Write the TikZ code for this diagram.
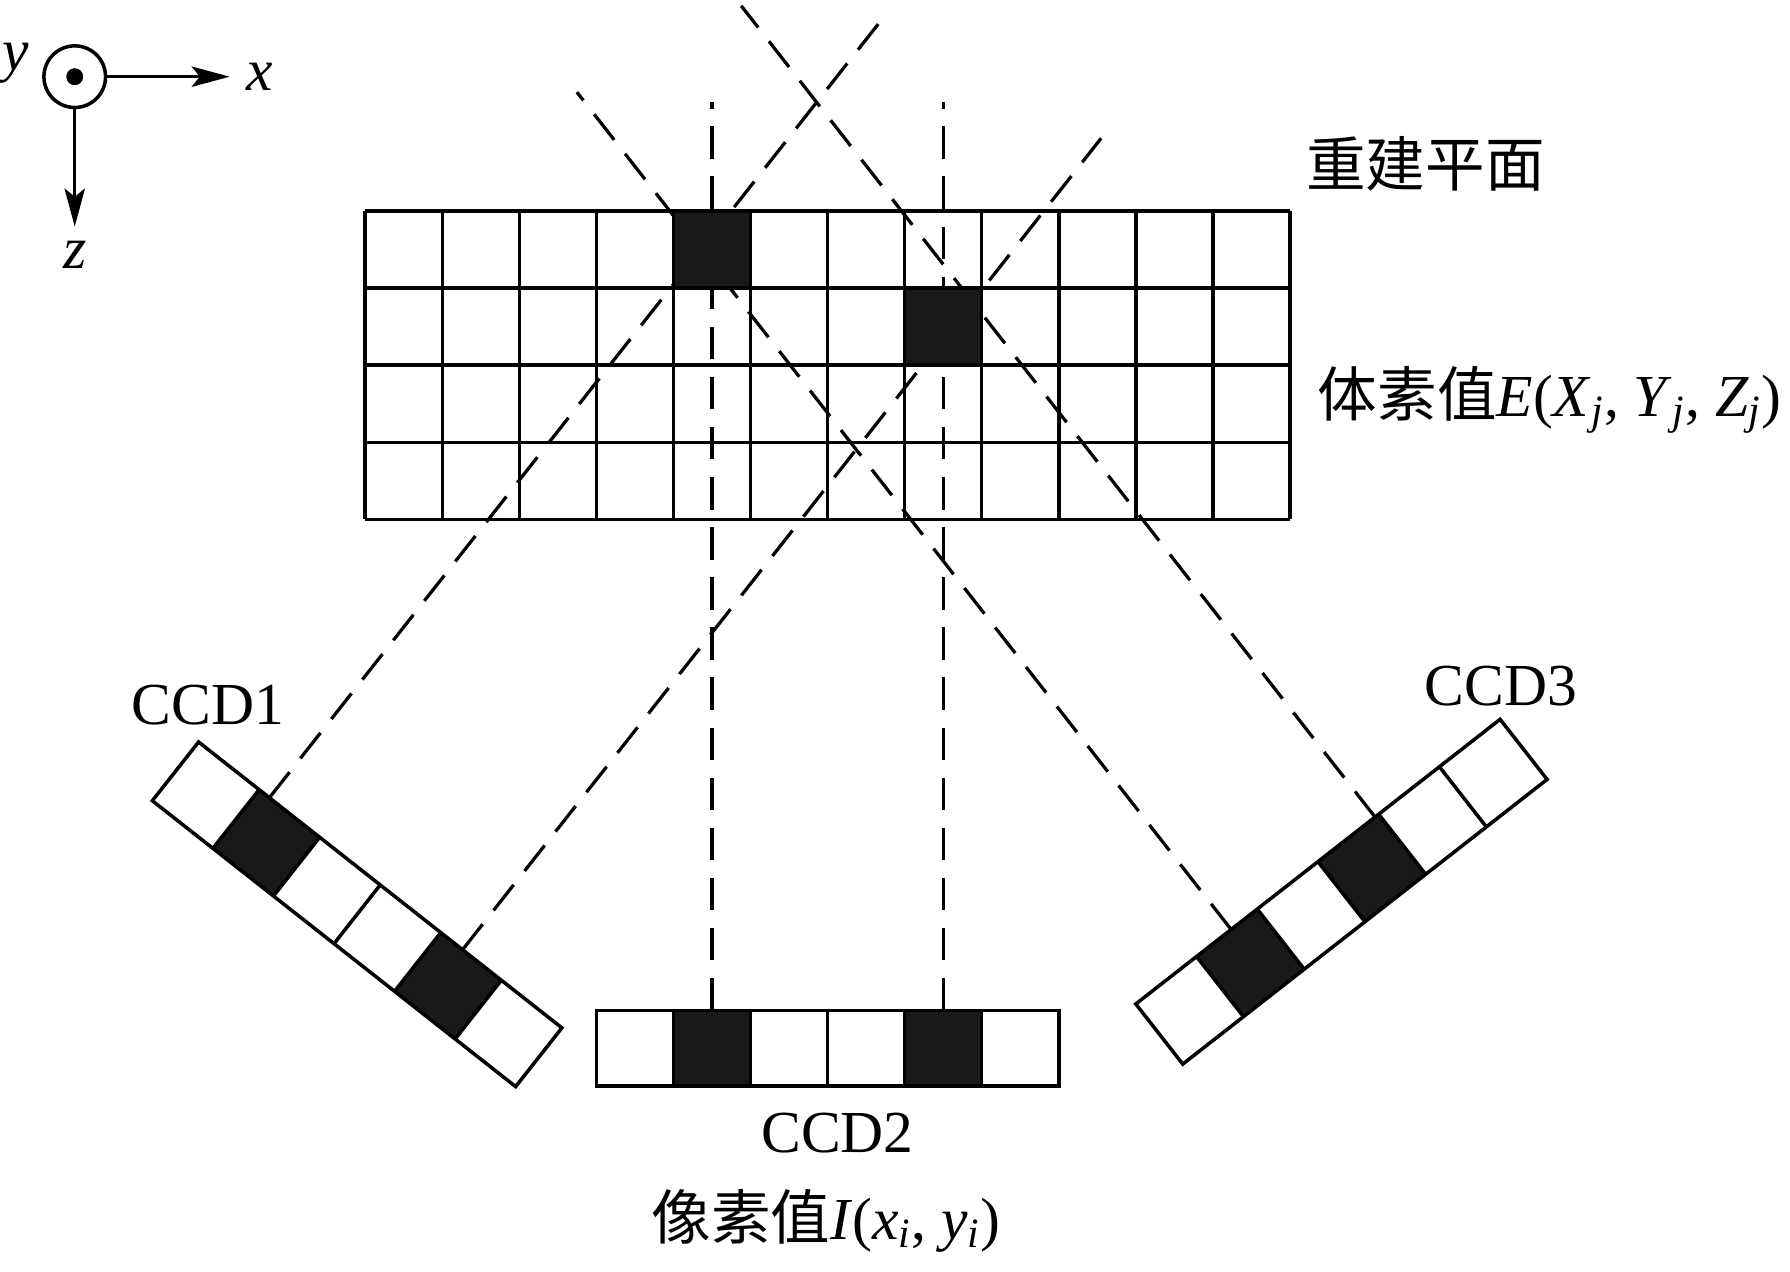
\documentclass[tikz,border=0pt]{standalone}
\usepackage{fontspec}
\setmainfont{Liberation Serif}
\newfontfamily\cjk{Noto Sans CJK SC}
\usepackage{tikz}
\usetikzlibrary{positioning,arrows.meta}
\newcommand{\xiabiao}[2]{\textit{#1}\textsubscript{\textit{#2}}}

\begin{document}
\begin{tikzpicture}[line width=1.3pt,
		touying/.style={line width=1.2pt, dash pattern=on 12pt off 6.5pt},
		heige/.style={fill=black!90},
		jiantou/.style={-{Stealth[length=14pt,width=7.5pt,inset=3pt]}},
		biaozhu/.style={font=\fontsize{22}{26}\selectfont, inner sep=0pt}]
		\useasboundingbox (-4.74,2.74) rectangle (18.49,-13.76);
		
		% 坐标系
		\node[circle, draw, minimum size=0.8cm, inner sep=0pt] (yuan) at (-3.77,1.745) {};
		\fill (yuan.center) circle (0.11);
		\coordinate (xjian) at (-1.76,1.745);
		\coordinate (zjian) at (-3.77,-0.2);
		\draw[jiantou] (yuan.east) -- (xjian);
		\draw[jiantou] (yuan.south) -- (zjian);
		\node[biaozhu] (xlab) at (-1.37,1.745) {\textit{x}};
		\node[biaozhu] (ylab) at (-4.53,1.92) {\textit{y}};
		\node[biaozhu] (zlab) at (-3.77,-0.57) {\textit{z}};
		
		% CCD2（水平）
		\begin{scope}[shift={(3,-10.375)}]
			\coordinate (c2a) at (1.5,0);
			\coordinate (c2b) at (4.5,0);
		\end{scope}
		\coordinate (t2a) at (4.5,1.42);
		\coordinate (t2b) at (7.5,1.42);
		
		% CCD1（左侧倾斜）
		\begin{scope}[shift={(-2.163,-6.889)}, rotate=-38.2]
			\coordinate (c1a) at (1.17,0);
			\coordinate (c1b) at (4.36,0);
			\coordinate (t1a) at (1.17,12.98);
			\coordinate (t1b) at (4.36,13.40);
		\end{scope}
		
		% CCD3（右侧倾斜）
		\begin{scope}[shift={(10.0,-10.289)}, rotate=38]
			\coordinate (c3a) at (1.57,0);
			\coordinate (c3b) at (3.94,0);
			\coordinate (t3a) at (1.57,13.79);
			\coordinate (t3b) at (3.94,13.36);
		\end{scope}
		
		% 投影线
		\draw[touying] (c2a) -- (t2a);
		\draw[touying] (c2b) -- (t2b);
		\draw[touying] (c1a) -- (t1a);
		\draw[touying] (c1b) -- (t1b);
		\draw[touying] (c3a) -- (t3a);
		\draw[touying] (c3b) -- (t3b);
		
		% 重建平面（4行12列）
		\fill[heige] (4,0) rectangle (5,-1); % 体素1
		\fill[heige] (7,-1) rectangle (8,-2); % 体素2
		\draw (0,0) grid (12,-4);
		
		% 三个CCD的像元
		\begin{scope}[shift={(3,-10.375)}]
			\fill[heige] (1,0) rectangle (2,-0.98);
			\fill[heige] (4,0) rectangle (5,-0.98);
			\draw (0,0) rectangle (6,-0.98);
			\foreach \i in {1,...,5} \draw (\i,0) -- (\i,-0.98);
		\end{scope}
		\begin{scope}[shift={(-2.163,-6.889)}, rotate=-38.2]
			\fill[heige] (1,0) rectangle (2,-0.97);
			\fill[heige] (4,0) rectangle (5,-0.97);
			\draw (0,0) rectangle (6,-0.97);
			\foreach \i in {1,...,5} \draw (\i,0) -- (\i,-0.97);
		\end{scope}
		\begin{scope}[shift={(10.0,-10.289)}, rotate=38]
			\fill[heige] (1,0) rectangle (2,-0.99);
			\fill[heige] (3,0) rectangle (4,-0.99);
			\draw (0,0) rectangle (6,-0.99);
			\foreach \i in {1,...,5} \draw (\i,0) -- (\i,-0.99);
		\end{scope}
		
		% 标注
		\node[biaozhu] (pingmian) at (13.76,0.61) {\cjk 重建平面};
		\node[biaozhu, anchor=west] (tisu) at (12.34,-2.45) {{\cjk 体素值}\textit{E}(\xiabiao{X}{j}, \xiabiao{Y}{j}, \xiabiao{Z}{j})};
		\node[biaozhu] (ccd1) at (-2.04,-6.41) {CCD1};
		\node[biaozhu] (ccd3) at (14.74,-6.16) {CCD3};
		\node[biaozhu] (ccd2) at (6.13,-11.97) {CCD2};
		\node[biaozhu] (xiangsu) at (5.98,-13.1) {{\cjk 像素值}\textit{I}(\xiabiao{x}{i}, \xiabiao{y}{i})};
	\end{tikzpicture}
\end{document}
